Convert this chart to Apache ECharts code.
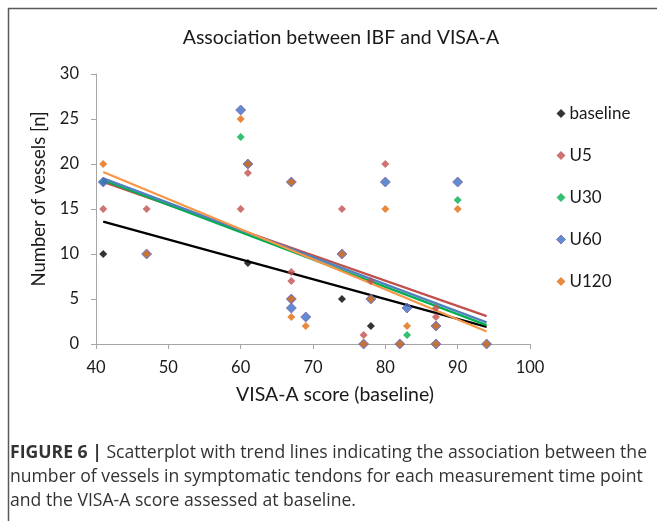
<!DOCTYPE html>
<html>
<head>
<meta charset="utf-8">
<script src="https://cdn.jsdelivr.net/npm/echarts@6/dist/echarts.min.js"></script>
<style>
  html, body { margin: 0; padding: 0; background: #fff; }
  #chart { width: 657px; height: 521px; }
</style>
</head>
<body>
<div id="chart"></div>
<script>
// ---------------- data ----------------
const seriesNames = ['baseline', 'U5', 'U30', 'U60', 'U120'];

// [VISA-A score, number of vessels]
const baseline = [[41, 10], [61, 9], [74, 5], [78, 2]];
const u5 = [[41, 15], [47, 15], [60, 15], [61, 19], [67, 8], [67, 7], [74, 15], [77, 1], [78, 7], [80, 20], [87, 4], [87, 3]];
const u30 = [[41, 18], [60, 23], [61, 20], [83, 1], [90, 16]];
const u60 = [[41, 18], [47, 10], [60, 26], [61, 20], [67, 18], [67, 5], [67, 4], [69, 3], [74, 10], [77, 0], [78, 5], [80, 18], [82, 0], [83, 4], [87, 2], [87, 0], [90, 18], [94, 0]];
const u120 = [[41, 20], [47, 10], [60, 25], [61, 20], [67, 18], [67, 5], [67, 3], [69, 2], [74, 10], [77, 0], [78, 5], [80, 15], [82, 0], [83, 2], [87, 2], [87, 0], [90, 15], [94, 0]];

// trend line ends at x = 41 and x = 94
const trendX = [41, 94];
const trendBaseline = [13.6, 1.9];
const trendU5 = [18.0, 3.1];
const trendU30 = [18.2, 2.1];
const trendU60 = [18.4, 2.4];
const trendU120 = [19.1, 1.4];

const xTicks = [40, 50, 60, 70, 80, 90, 100];
const yTicks = [0, 5, 10, 15, 20, 25, 30];

// ---------------- styles ----------------
const markerColor = ['#000000', '#C0504D', '#00B050', '#3A6FC6', '#E46C0A'];
const markerBorder = ['#000000', '#C0504D', '#00B050', '#8064A2', '#E46C0A'];
const lineColor = ['#000000', '#C0504D', '#00B050', '#4F81BD', '#F79646'];
const points = [baseline, u5, u30, u60, u120];
const trends = [trendBaseline, trendU5, trendU30, trendU60, trendU120];

const font = 'Lato, "Open Sans", sans-serif';

let series = [];
trends.forEach((t, i) => {
  series.push({
    name: seriesNames[i] + ' trend',
    type: 'line',
    data: trendX.map((x, k) => [x, t[k]]),
    symbol: 'none',
    lineStyle: { color: lineColor[i], width: 2.2 },
    silent: true,
    z: 2
  });
});
points.forEach((p, i) => {
  series.push({
    name: seriesNames[i],
    type: 'scatter',
    data: p,
    symbol: 'diamond',
    symbolSize: i === 3 ? 10 : 8,
    itemStyle: { color: markerColor[i], borderColor: markerBorder[i], borderWidth: i === 3 ? 1 : 0 },
    z: 3 + i
  });
});

const chart = echarts.init(document.getElementById('chart'));
chart.setOption({
  animation: false,
  backgroundColor: '#fff',
  title: {
    text: 'Association between IBF and VISA-A',
    left: 336,
    textAlign: 'center',
    top: 23,
    textStyle: { fontFamily: font, fontSize: 19.5, fontWeight: 'normal', color: '#1a1a1a' }
  },
  grid: { left: 96, right: 127, top: 74, bottom: 177 },
  xAxis: {
    type: 'value', min: 40, max: 100, interval: 10,
    axisLine: { lineStyle: { color: '#A6A6A6' } },
    axisTick: { lineStyle: { color: '#A6A6A6' }, length: 5 },
    axisLabel: { fontFamily: font, fontSize: 16.5, color: '#1a1a1a', margin: 15,
      formatter: v => xTicks.includes(v) ? String(v) : '' },
    splitLine: { show: false }
  },
  yAxis: {
    type: 'value', min: 0, max: 30, interval: 5,
    axisLine: { show: true, lineStyle: { color: '#A6A6A6' } },
    axisTick: { show: true, lineStyle: { color: '#A6A6A6' }, length: 5 },
    axisLabel: { fontFamily: font, fontSize: 16.5, color: '#1a1a1a', margin: 17,
      formatter: v => yTicks.includes(v) ? String(v) : '' },
    splitLine: { show: false }
  },
  legend: {
    data: seriesNames.map((n, i) => ({ name: n, icon: 'diamond', itemStyle: { color: markerColor[i], borderColor: markerBorder[i], borderWidth: i === 3 ? 1 : 0 } })),
    orient: 'vertical',
    left: 551,
    top: 100,
    itemWidth: 9,
    itemHeight: 9,
    itemGap: 25,
    textStyle: { fontFamily: font, fontSize: 17, color: '#1a1a1a', padding: [0, 0, 0, -1] }
  },
  graphic: [
    {
      type: 'rect',
      shape: { x: 8.5, y: 8.5, width: 700, height: 600 },
      style: { fill: 'none', stroke: '#595959', lineWidth: 1.5 },
      silent: true
    },
    {
      type: 'text', x: 335, y: 395,
      style: { text: 'VISA-A score (baseline)', font: '19.5px ' + font, fill: '#1a1a1a', align: 'center', verticalAlign: 'middle' }
    },
    {
      type: 'text', x: 39, y: 199, rotation: Math.PI / 2,
      style: { text: 'Number of vessels [n]', font: '18.5px ' + font, fill: '#1a1a1a', align: 'center', verticalAlign: 'middle' }
    },
    {
      type: 'text', left: 10, top: 441,
      style: {
        text: '{b|FIGURE 6 |} Scatterplot with trend lines indicating the association between the\nnumber of vessels in symptomatic tendons for each measurement time point\nand the VISA-A score assessed at baseline.',
        font: '17.6px "Open Sans", sans-serif',
        fill: '#333',
        lineHeight: 24,
        rich: {
          b: { font: 'bold 17.6px "Open Sans", sans-serif', fill: '#333' }
        }
      }
    }
  ],
  series: series
});
</script>
</body>
</html>
